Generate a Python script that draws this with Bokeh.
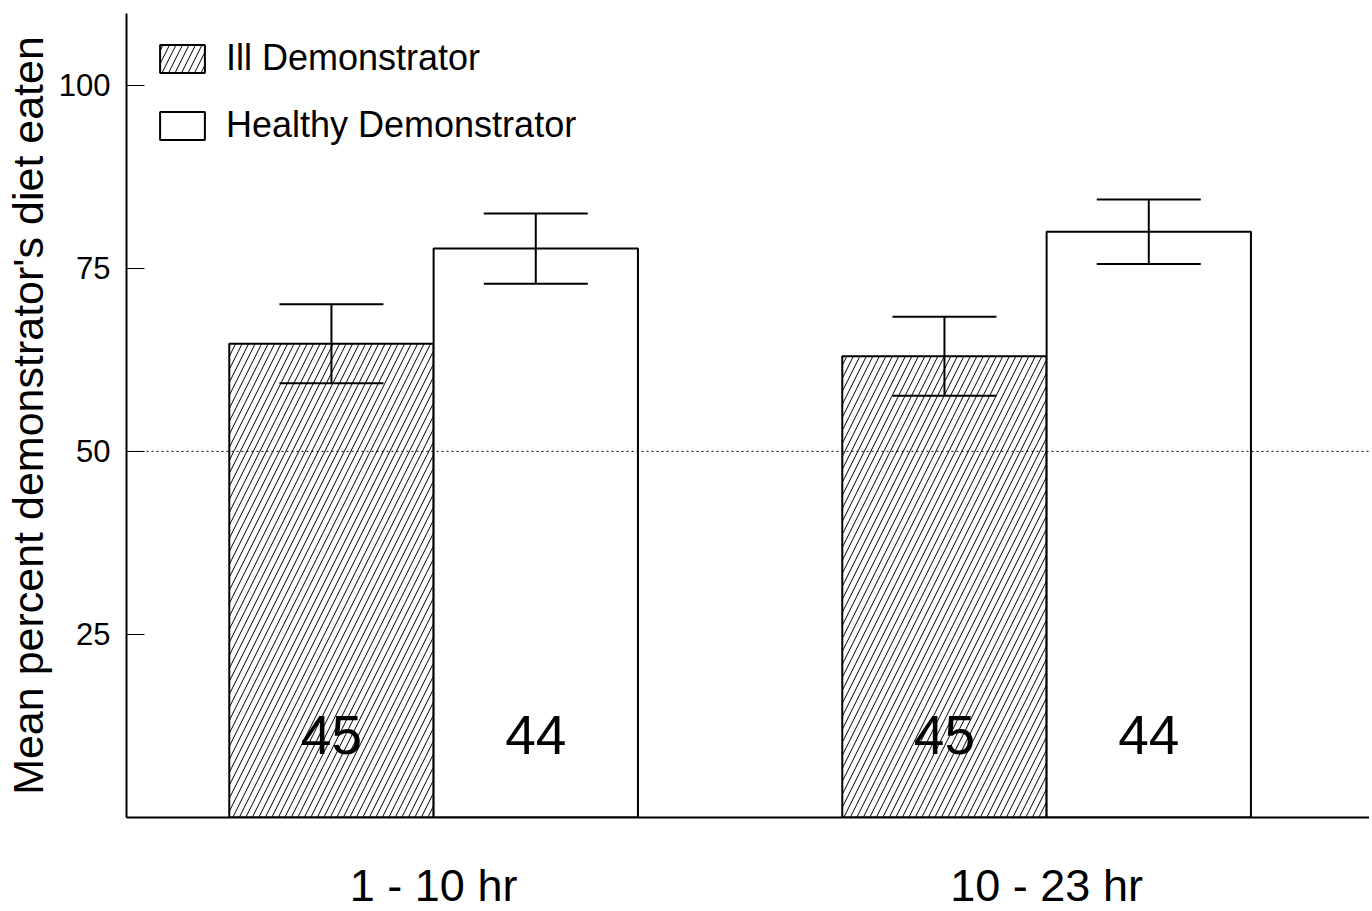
from bokeh.plotting import figure
from bokeh.models import (Range1d, FixedTicker, Span, Whisker, TeeHead, ColumnDataSource,
                          Legend, LegendItem, LabelSet)
from bokeh.core.properties import value
from bokeh.embed import file_html
from bokeh.resources import INLINE

groups = ["1 - 10 hr", "10 - 23 hr"]
ill_mean = [64.7, 63.0]
ill_se = [5.4, 5.4]
healthy_mean = [77.7, 80.0]
healthy_se = [4.8, 4.4]
ill_n = ["45", "45"]
healthy_n = ["44", "44"]
y_ticks = [25, 50, 75, 100]
chance_level = 50
series_names = ["Ill Demonstrator", "Healthy Demonstrator"]

FONT = "Liberation Sans"

xs = [i + 1 for i in range(len(groups))]
off = 1 / 6
bw = 1 / 3
label_y = 11.3

ill_src = ColumnDataSource(dict(
    x=[x - off for x in xs], top=ill_mean,
    lo=[m - s for m, s in zip(ill_mean, ill_se)],
    hi=[m + s for m, s in zip(ill_mean, ill_se)],
    n=ill_n, ny=[label_y] * len(xs)))
hl_src = ColumnDataSource(dict(
    x=[x + off for x in xs], top=healthy_mean,
    lo=[m - s for m, s in zip(healthy_mean, healthy_se)],
    hi=[m + s for m, s in zip(healthy_mean, healthy_se)],
    n=healthy_n, ny=[label_y] * len(xs)))

FW = 1243
p = figure(frame_width=FW, frame_height=804, output_backend="svg", toolbar_location=None,
           x_range=Range1d(0.499, 0.499 + FW / 613), y_range=Range1d(0, 109.8),
           min_border_left=126, min_border_top=13, min_border_right=0, min_border_bottom=0)
p.outline_line_color = None
p.grid.grid_line_color = None
p.background_fill_color = "white"
p.border_fill_color = "white"

r_ill = p.vbar(x="x", top="top", bottom=0, width=bw, source=ill_src,
               fill_color="white", line_color="black", line_width=2,
               hatch_pattern="/", hatch_color="black", hatch_scale=13, hatch_weight=1)
r_hl = p.vbar(x="x", top="top", bottom=0, width=bw, source=hl_src,
              fill_color="white", line_color="black", line_width=2)

for src in (ill_src, hl_src):
    w = Whisker(base="x", lower="lo", upper="hi", source=src, line_width=2, line_color="black",
                upper_head=TeeHead(size=104, line_width=2, line_color="black"),
                lower_head=TeeHead(size=104, line_width=2, line_color="black"),
                level="overlay")
    p.add_layout(w)
    p.add_layout(LabelSet(x="x", y="ny", text="n", source=src, text_align="center",
                          text_baseline="middle", text_font=value(FONT),
                          text_font_size="55px", text_color="black"))

p.add_layout(Span(location=chance_level, dimension="width", line_color="black",
                  line_width=1, line_dash="2 3"))

# y axis
ya = p.yaxis[0]
ya.ticker = FixedTicker(ticks=y_ticks)
ya.minor_tick_line_color = None
ya.major_tick_in = 18
ya.major_tick_out = 0
ya.major_tick_line_width = 1
ya.axis_line_width = 2
ya.major_label_text_font = FONT
ya.major_label_text_font_size = "31px"
ya.major_label_text_color = "black"
ya.major_label_standoff = 16
ya.axis_label = "Mean percent demonstrator's diet eaten"
ya.axis_label_text_font = FONT
ya.axis_label_text_font_style = "normal"
ya.axis_label_text_font_size = "43px"
ya.axis_label_text_color = "black"
ya.axis_label_standoff = 4

# x axis
xa = p.xaxis[0]
xa.ticker = FixedTicker(ticks=xs)
xa.major_label_overrides = {x: g for x, g in zip(xs, groups)}
xa.major_tick_line_color = None
xa.minor_tick_line_color = None
xa.axis_line_width = 2
xa.major_label_text_font = FONT
xa.major_label_text_font_size = "45px"
xa.major_label_text_color = "black"
xa.major_label_standoff = 36

legend = Legend(items=[LegendItem(label=series_names[0], renderers=[r_ill]),
                       LegendItem(label=series_names[1], renderers=[r_hl])],
                location=(28, 671), margin=0, padding=0, spacing=25,
                glyph_width=56, glyph_height=35, label_height=35, label_standoff=16,
                label_text_font=FONT, label_text_font_size="36px", label_text_color="black",
                border_line_color=None, background_fill_alpha=0)
p.add_layout(legend)

open("out.html", "w").write(file_html(p, INLINE))
